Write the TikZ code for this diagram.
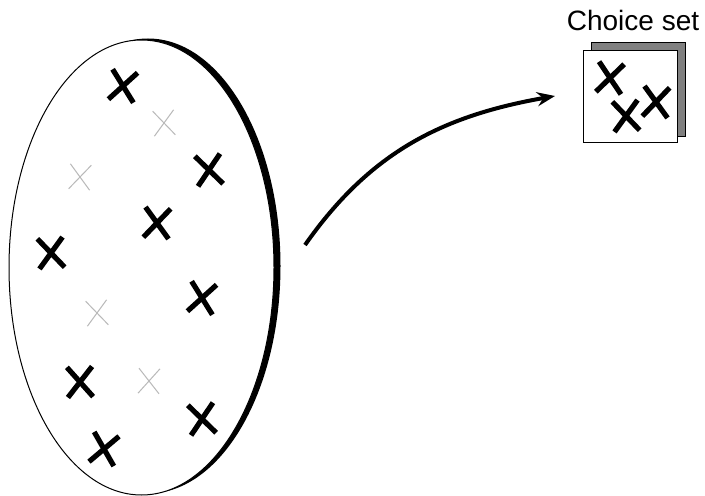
\documentclass[tikz,border=0pt]{standalone}
\usepackage{fontspec}
\setmainfont{Liberation Sans}
\usetikzlibrary{shapes.misc,shapes.geometric,arrows.meta}

\begin{document}
\begin{tikzpicture}[x=0.5pt,y=0.5pt,
    pool/.style={ellipse, inner sep=0pt,
                 minimum width=132.5pt, minimum height=227.5pt},
    bigx/.style={cross out, draw, line width=2.6pt,
                 minimum width=10pt, minimum height=12.5pt, inner sep=0pt},
    faintx/.style={cross out, draw=gray!55, line width=0.5pt,
                 minimum width=10pt, minimum height=12pt, inner sep=0pt},
    card/.style={draw, line width=0.5pt, inner sep=0pt,
                 minimum width=47pt, minimum height=46pt},
    arrow/.style={-{Stealth[length=9pt,width=7pt,inset=3pt]}, line width=2pt}
  ]
  \useasboundingbox (0,0) rectangle (705,-496);
  % Population
  \node[pool, fill=black] (rim) at (148,-266) {};
  \node[pool, draw, fill=white, line width=0.5pt] (all) at (141.5,-267.5) {};
  \node[bigx, rotate=-8] (b1) at (123,-86)  {};
  \node[bigx, rotate=6]  (b2) at (209,-170) {};
  \node[bigx, rotate=-4] (b3) at (157,-223) {};
  \node[bigx, rotate=4]  (b4) at (51,-253)  {};
  \node[bigx, rotate=-8] (b5) at (202,-298) {};
  \node[bigx, rotate=2]  (b6) at (80,-382)  {};
  \node[bigx, rotate=6]  (b7) at (202,-419) {};
  \node[bigx, rotate=-10](b8) at (104,-449) {};
  \node[faintx, rotate=4]  (g1) at (164,-123) {};
  \node[faintx, rotate=-4] (g2) at (80,-177)  {};
  \node[faintx, rotate=4]  (g3) at (97,-313)  {};
  \node[faintx, rotate=-2] (g4) at (149,-381) {};
  % Choice set
  \node[card, fill=black!50, minimum height=47pt] (back) at (638,-90) {};
  \node[card, fill=white] (front) at (630,-97) {};
  \node[bigx, rotate=-6] (c1) at (610,-78)  {};
  \node[bigx, rotate=4]  (c2) at (626,-116) {};
  \node[bigx, rotate=-4] (c3) at (656,-102) {};
  \node[font=\fontsize{14}{16}\selectfont] (title) at (633,-20) {Choice set};
  % Arrow
  \coordinate (from) at (305,-245);
  \coordinate (to) at (555,-96);
  \draw[arrow] (from) to[out=55, in=190] (to);
\end{tikzpicture}
\end{document}
